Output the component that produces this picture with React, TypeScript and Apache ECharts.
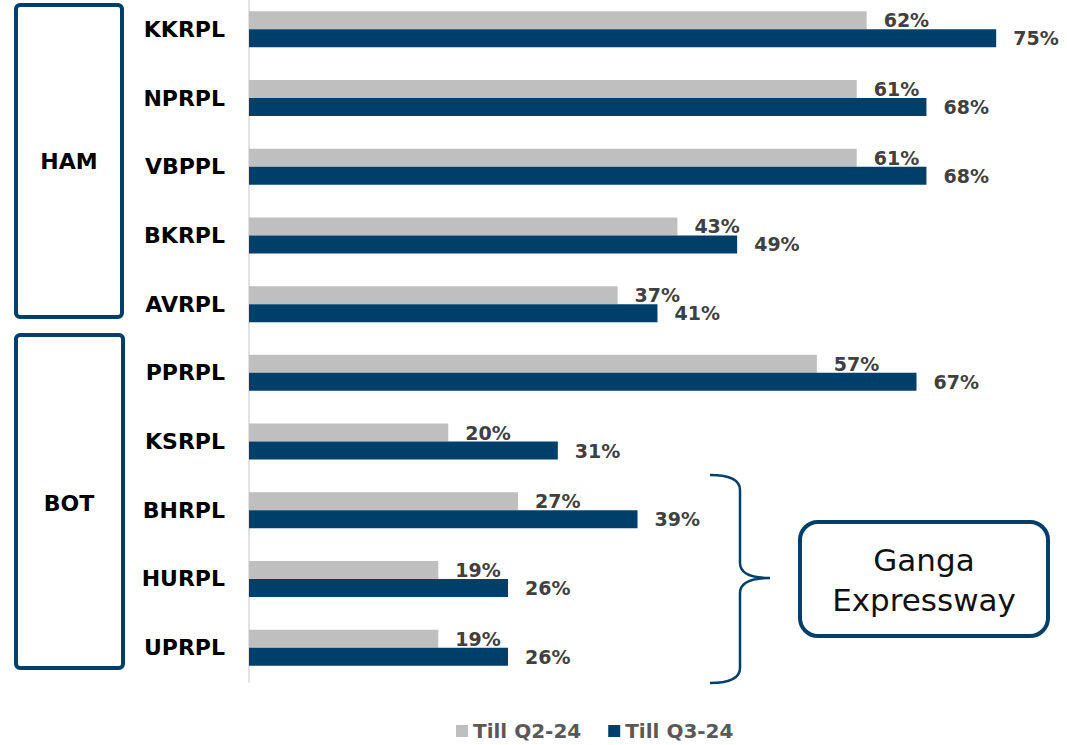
import React, { useEffect, useRef } from "react";
import * as echarts from "echarts";

const categories = ["KKRPL", "NPRPL", "VBPPL", "BKRPL", "AVRPL", "PPRPL", "KSRPL", "BHRPL", "HURPL", "UPRPL"];
const seriesNames = ["Till Q2-24", "Till Q3-24"];
const tillQ2 = [62, 61, 61, 43, 37, 57, 20, 27, 19, 19];
const tillQ3 = [75, 68, 68, 49, 41, 67, 31, 39, 26, 26];
const groupLabels = ["HAM", "BOT"];
const noteText = "Ganga\nExpressway";

const NAVY = "#003f6a";
const GRAY = "#bfbfbf";
const FONT = "DejaVu Sans";

export default function App() {
  const ref = useRef<HTMLDivElement>(null);
  useEffect(() => {
    if (!ref.current) return;
    echarts.graphic.registerShape(
      "brace",
      echarts.graphic.extendPath(
        "M710,475 Q740,475 740,490 L740,563 Q740,578 770,578 Q740,578 740,593 L740,668 Q740,683 710,683",
        {}
      )
    );
    const chart = echarts.init(ref.current, null, { renderer: "svg" });
    const labelStyle = {
      show: true,
      position: "right" as const,
      distance: 17,
      formatter: "{c}%",
      fontFamily: FONT,
      fontWeight: "bold" as const,
      fontSize: 19,
      color: "#404040",
    };
    chart.setOption({
      animation: false,
      textStyle: { fontFamily: FONT },
      grid: { left: 249, top: -5, height: 687, right: 21, containLabel: false, outerBoundsMode: "none" },
      xAxis: {
        type: "value",
        min: 0,
        max: 80,
        show: false,
        splitLine: { show: false },
      },
      yAxis: {
        type: "category",
        data: categories,
        inverse: true,
        axisLine: { show: true, lineStyle: { color: "#d9d9d9", width: 1.5 } },
        axisTick: { show: false },
        axisLabel: {
          margin: 24,
          fontFamily: FONT,
          fontWeight: "bold",
          fontSize: 22,
          color: "#000",
        },
      },
      legend: {
        data: seriesNames,
        left: 456,
        top: 720,
        padding: 0,
        icon: "rect",
        itemWidth: 12,
        itemHeight: 12,
        itemGap: 27,
        textStyle: { fontFamily: FONT, fontWeight: "bold", fontSize: 20, lineHeight: 22, color: "#595959" },
      },
      series: [
        {
          name: seriesNames[0],
          type: "bar",
          data: tillQ2,
          barWidth: 18,
          barGap: "0%",
          itemStyle: { color: GRAY },
          label: labelStyle,
        },
        {
          name: seriesNames[1],
          type: "bar",
          data: tillQ3,
          barWidth: 18,
          barGap: "0%",
          itemStyle: { color: NAVY },
          label: labelStyle,
        },
      ],
      graphic: [
        {
          type: "rect",
          shape: { x: 16, y: 5, width: 106, height: 312, r: 4 },
          style: { fill: "none", stroke: NAVY, lineWidth: 4 },
        },
        {
          type: "rect",
          shape: { x: 16, y: 335, width: 107, height: 333, r: 4 },
          style: { fill: "none", stroke: NAVY, lineWidth: 4 },
        },
        {
          type: "text",
          x: 69,
          y: 161,
          style: {
            text: groupLabels[0],
            align: "center",
            verticalAlign: "middle",
            font: `bold 22px "${FONT}"`,
            fill: "#000",
          },
        },
        {
          type: "text",
          x: 69,
          y: 503,
          style: {
            text: groupLabels[1],
            align: "center",
            verticalAlign: "middle",
            font: `bold 22px "${FONT}"`,
            fill: "#000",
          },
        },
        {
          type: "brace",
          x: 0,
          y: 0,
          style: { fill: "none", stroke: NAVY, lineWidth: 2.5 },
        },
        {
          type: "rect",
          shape: { x: 800, y: 522, width: 248, height: 114, r: 18 },
          style: { fill: "#fff", stroke: NAVY, lineWidth: 4 },
        },
        {
          type: "text",
          x: 924,
          y: 580,
          style: {
            text: noteText,
            align: "center",
            verticalAlign: "middle",
            font: `31px "${FONT}"`,
            lineHeight: 40,
            fill: "#111",
          },
        },
      ],
    });
    return () => chart.dispose();
  }, []);
  return <div ref={ref} style={{ width: 1067, height: 745, position: "absolute", left: 0, top: 0 }} />;
}
